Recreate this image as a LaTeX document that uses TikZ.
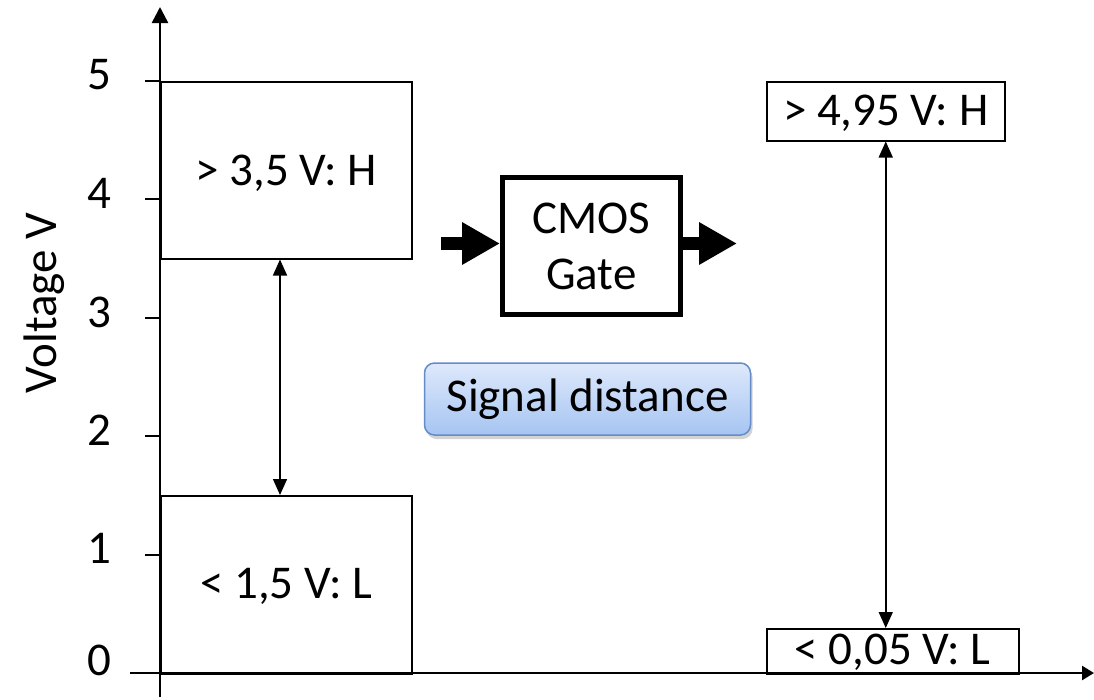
\documentclass[tikz,border=0pt]{standalone}
\usepackage{fontspec}
\setmainfont{Carlito}
\usetikzlibrary{arrows.meta,shadows}
\definecolor{sigtop}{RGB}{222,233,251}
\definecolor{sigbot}{RGB}{166,196,242}
\definecolor{sigedge}{RGB}{100,140,200}
\begin{document}
\begin{tikzpicture}[x=1pt,y=-1pt,
  txt/.style={font=\fontsize{47}{54}\selectfont},
  axis/.style={line width=2.5pt},
  lvlbox/.style={draw, line width=1.5pt, txt, inner sep=0pt, anchor=north west},
  dbl/.style={{Triangle[length=16pt,width=14pt]}-{Triangle[length=16pt,width=14pt]}, line width=1.5pt},
  fat/.style={line width=13pt, -{Triangle[length=38pt,width=40pt]}},
  tick/.style={line width=2pt},
  ticklbl/.style={txt, anchor=east, inner sep=0pt}]
\useasboundingbox (0,0) rectangle (1094,699);
% axes
\coordinate (yb) at (160,697);
\coordinate (yt) at (160,7);
\coordinate (xl) at (130,673);
\coordinate (xr) at (1094,673);
\draw[axis, -{Triangle[length=16pt,width=16pt]}] (yb) -- (yt);
\draw[axis, -{Triangle[length=12pt,width=14pt]}] (xl) -- (xr);
% ticks
\foreach \v/\yy in {1/554.5,2/436,3/318,4/199,5/81}{
  \coordinate (t\v a) at (145,\yy);
  \coordinate (t\v b) at (160,\yy);
  \draw[tick] (t\v a) -- (t\v b);
}
\foreach \v/\yy in {0/660,1/548,2/430,3/312,4/193,5/75}{
  \node[ticklbl] (lab\v) at (112,\yy) {\v};
}
\node[txt, rotate=90] (ylab) at (44,303) {Voltage V};
% left boxes
\node[lvlbox, minimum width=251pt, minimum height=177pt] (hbox) at (160,81) {};
\node[txt] (htxt) at ([yshift=-3pt]hbox.center) {> 3,5 V: H};
\node[lvlbox, minimum width=251pt, minimum height=178pt] (lbox) at (160,495) {};
\node[txt] (ltxt) at ([yshift=-2pt]lbox.center) {< 1,5 V: L};
\draw[dbl] ([xshift=120pt]hbox.south west) -- ([xshift=120pt]lbox.north west);
% CMOS gate
\node[draw, line width=4.5pt, minimum width=178pt, minimum height=137pt, anchor=north west, inner sep=0pt] (gate) at (500,175) {};
\node[font=\fontsize{47}{56}\selectfont, align=center] (gtxt) at ([yshift=-1pt]gate.center) {CMOS\\Gate};
\coordinate (inA) at (441,243.5);
\coordinate (outB) at (737,243.5);
\draw[fat] (inA) -- (inA -| gate.west);
\draw[fat] (outB -| gate.east) -- (outB);
% signal distance
\node[draw=sigedge, line width=1.5pt, rounded corners=10pt, top color=sigtop, bottom color=sigbot, drop shadow={shadow xshift=2pt, shadow yshift=-4pt, opacity=0.35}, minimum width=326pt, minimum height=72pt, txt, inner sep=0pt] (sig) at (587.5,399) {Signal distance};
% right boxes
\node[lvlbox, minimum width=238pt, minimum height=59pt] (rh) at (766,81) {};
\node[txt] (rhtxt) at ([yshift=-2pt]rh.center) {> 4,95 V: H};
\node[lvlbox, minimum width=252pt, minimum height=45pt] (rl) at (766,628) {};
\node[txt] (rltxt) at ([yshift=-1pt]rl.center) {< 0,05 V: L};
\draw[dbl] (rh.south) -- (rh.south |- rl.north);
\end{tikzpicture}
\end{document}
